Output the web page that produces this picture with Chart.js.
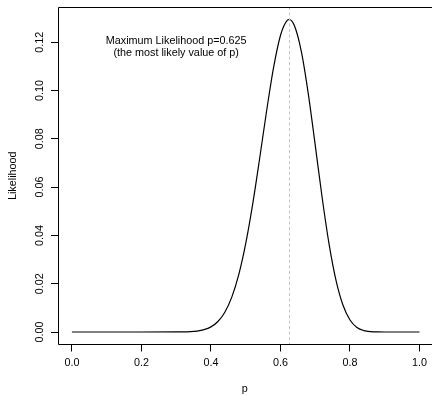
<!DOCTYPE html>
<html>
<head>
<meta charset="utf-8">
<script src="https://cdn.jsdelivr.net/npm/chart.js@4/dist/chart.umd.min.js"></script>
<style>
  html, body { margin: 0; padding: 0; background: #fff; }
  canvas { display: block; }
</style>
</head>
<body>
<canvas id="myChart" width="432" height="396"></canvas>
<script>
// likelihood curve
var pValues = [0, 0.1, 0.2, 0.3, 0.32, 0.34, 0.36, 0.38, 0.40, 0.42, 0.44, 0.46, 0.48, 0.50,
  0.52, 0.54, 0.56, 0.58, 0.60, 0.62, 0.625, 0.64, 0.66, 0.68, 0.70, 0.72, 0.74, 0.76,
  0.78, 0.80, 0.82, 0.84, 0.86, 0.88, 0.90, 0.95, 1.0];
var likelihood = [0, 0, 0, 0.00002, 0.00005, 0.00015, 0.0004, 0.00097, 0.00213, 0.00434,
  0.0082, 0.01443, 0.02375, 0.03659, 0.05287, 0.07173, 0.09141, 0.10938, 0.1228, 0.12914,
  0.12941, 0.12692, 0.11622, 0.09874, 0.07741, 0.05561, 0.0363, 0.02128, 0.01105, 0.00498,
  0.0019, 0.00059, 0.00014, 0.00003, 0, 0, 0];

var xTicks = [0, 0.2, 0.4, 0.6, 0.8, 1.0];
var yTicks = [0, 0.02, 0.04, 0.06, 0.08, 0.10, 0.12];

var maxP = 0.625;
var noteLines = ['Maximum Likelihood p=0.625', '(the most likely value of p)'];
var noteAt = [0.3, 0.1179];

var fontFamily = '"Liberation Sans", Arial, sans-serif';
var font = { family: fontFamily, size: 10.8 };

function generateGraph() {
  var points = [];
  for (var i = 0; i < pValues.length; i++) {
    points.push({ x: pValues[i], y: likelihood[i] });
  }

  var extras = {
    id: 'extras',
    afterDatasetsDraw: function(chart) {
      var ctx = chart.ctx;
      var area = chart.chartArea;
      var xs = chart.scales.x;
      var ys = chart.scales.y;

      // dashed line at the maximum
      var mx = Math.round(xs.getPixelForValue(maxP)) + 0.5;
      ctx.save();
      ctx.strokeStyle = '#c4c4c4';
      ctx.lineWidth = 1;
      ctx.setLineDash([3, 2.5]);
      ctx.beginPath();
      ctx.moveTo(mx, area.top);
      ctx.lineTo(mx, area.bottom);
      ctx.stroke();
      ctx.restore();

      // box
      ctx.save();
      ctx.strokeStyle = '#000';
      ctx.lineWidth = 1;
      ctx.beginPath();
      var l = Math.round(area.left) + 0.5;
      var t = Math.round(area.top) + 0.5;
      var b = Math.floor(area.bottom) + 0.5;
      ctx.moveTo(area.right + 5, t);
      ctx.lineTo(l, t);
      ctx.lineTo(l, b);
      ctx.lineTo(area.right + 5, b);
      ctx.stroke();
      ctx.restore();

      // note
      ctx.save();
      ctx.fillStyle = '#000';
      ctx.font = font.size + 'px ' + fontFamily;
      ctx.textAlign = 'center';
      ctx.textBaseline = 'middle';
      var cx = xs.getPixelForValue(noteAt[0]);
      var cy = ys.getPixelForValue(noteAt[1]);
      var gap = 11.7;
      for (var n = 0; n < noteLines.length; n++) {
        ctx.fillText(noteLines[n], cx, cy + (n - (noteLines.length - 1) / 2) * gap);
      }
      ctx.restore();
    }
  };

  var ctx = document.getElementById('myChart').getContext('2d');
  var myChart = new Chart(ctx, {
    type: 'line',
    data: {
      datasets: [{
        data: points,
        borderColor: '#000',
        borderWidth: 1.2,
        pointRadius: 0,
        fill: false,
        cubicInterpolationMode: 'monotone'
      }]
    },
    options: {
      responsive: false,
      animation: false,
      events: [],
      layout: { padding: { top: 7, left: 0, right: 0, bottom: 0 } },
      plugins: { legend: { display: false }, tooltip: { enabled: false } },
      scales: {
        x: {
          type: 'linear',
          min: -0.04,
          max: 1.0345,
          afterBuildTicks: function(s) { s.ticks = xTicks.map(function(v) { return { value: v }; }); },
          afterFit: function(s) { s.height = 51.5; },
          ticks: {
            autoSkip: false, maxRotation: 0, padding: 5, color: '#000', font: font,
            callback: function(v) { return Number(v).toFixed(1); }
          },
          grid: { drawOnChartArea: false, tickLength: 7, color: '#000', lineWidth: 1 },
          border: { display: false },
          title: { display: true, text: 'p', color: '#000', font: font, padding: { top: 0, bottom: 0 } }
        },
        y: {
          type: 'linear',
          min: -0.005176,
          max: 0.134586,
          afterBuildTicks: function(s) { s.ticks = yTicks.map(function(v) { return { value: v }; }); },
          afterFit: function(s) { s.width = 58; },
          ticks: {
            autoSkip: false, minRotation: 90, maxRotation: 90, crossAlign: 'center', padding: 0,
            color: '#000', font: font,
            callback: function(v) { return Number(v).toFixed(2); }
          },
          grid: { drawOnChartArea: false, tickLength: 7, color: '#000', lineWidth: 1 },
          border: { display: false },
          title: { display: true, text: 'Likelihood', color: '#000', font: font, padding: { top: 6.5, bottom: 0 } }
        }
      }
    },
    plugins: [extras]
  });
}

generateGraph();
</script>
</body>
</html>
